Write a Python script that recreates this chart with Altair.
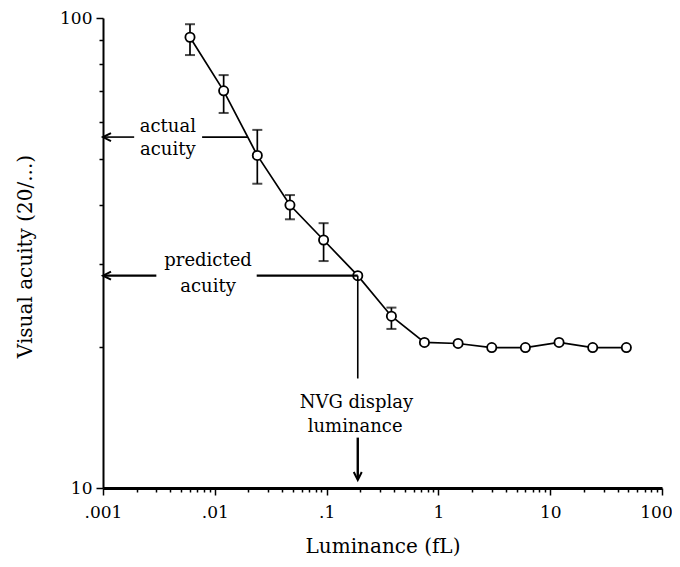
import altair as alt
import pandas as pd

# ---- data ----
luminance = [0.006, 0.012, 0.024, 0.047, 0.094, 0.19, 0.38, 0.75, 1.5, 3.0, 6.0, 12.0, 24.0, 48.0]
acuity = [91.0, 70.0, 51.0, 40.0, 33.7, 28.3, 23.2, 20.4, 20.3, 19.9, 19.9, 20.4, 19.9, 19.9]

err_lum = [0.006, 0.012, 0.024, 0.047, 0.094, 0.38]
err_hi = [97.0, 75.6, 57.8, 42.0, 36.6, 24.2]
err_lo = [83.4, 62.8, 44.4, 37.3, 30.4, 21.8]

# annotation lines (luminance, acuity)
seg_x1 = [0.001, 0.0077, 0.001, 0.0237, 0.19, 0.19]
seg_x2 = [0.0019, 0.0197, 0.0030, 0.19, 0.19, 0.19]
seg_y1 = [55.8, 55.8, 28.3, 28.3, 28.3, 12.8]
seg_y2 = [55.8, 55.8, 28.3, 28.3, 17.1, 10.45]
seg_w = [1.6, 1.6, 2.4, 2.4, 1.6, 2.4]

note_text = ["actual", "acuity", "predicted", "acuity", "NVG display", "luminance"]
note_x = [0.0038, 0.0038, 0.0087, 0.0087, 0.185, 0.18]
note_y = [58.6, 52.4, 30.4, 26.8, 15.2, 13.5]

arrow_left_x = [0.001, 0.001]
arrow_left_y = [55.8, 28.3]
arrow_down_x = [0.19]
arrow_down_y = [10.4]

x_major = [0.001, 0.01, 0.1, 1, 10, 100]
x_major_labels = [".001", ".01", ".1", "1", "10", "100"]
y_major = [10, 100]
y_major_labels = ["10", "100"]

x_ticks = [m * 10 ** e for e in range(-3, 2) for m in range(1, 10)] + [100]
y_ticks = [10, 20, 30, 40, 50, 60, 70, 80, 90, 100]

FONT = "DejaVu Serif"
MAJOR_TEST = "abs(log(datum.value)/LN10 - round(log(datum.value)/LN10)) < 0.001"


def label_expr(vals, labels):
    parts = [f"abs(datum.value - {v}) < {v * 1e-6} ? '{l}'" for v, l in zip(vals, labels)]
    return " : ".join(parts) + " : ''"


main = pd.DataFrame({"lum": luminance, "acu": acuity})
err = pd.DataFrame({"lum": err_lum, "hi": err_hi, "lo": err_lo})
segs = pd.DataFrame({"x1": seg_x1, "x2": seg_x2, "y1": seg_y1, "y2": seg_y2, "w": seg_w})
notes = pd.DataFrame({"t": note_text, "x": note_x, "y": note_y})
arrL = pd.DataFrame({"x": arrow_left_x, "y": arrow_left_y})
arrD = pd.DataFrame({"x": arrow_down_x, "y": arrow_down_y})

xscale = alt.Scale(type="log", domain=[0.001, 100], nice=False)
yscale = alt.Scale(type="log", domain=[10, 100], nice=False)

xaxis = alt.Axis(
    values=x_ticks, labelExpr=label_expr(x_major, x_major_labels), grid=False,
    title="Luminance (fL)", titleFont=FONT, titleFontSize=20, titleFontWeight="normal",
    titleColor="black", titleY=58, titleBaseline="middle",
    labelFont=FONT, labelFontSize=17, labelColor="black", labelPadding=9,
    labelOverlap=False, labelFlush=False,
    labelOffset={"condition": {"test": "datum.value > 99", "value": -6}, "value": 0},
    tickSize={"condition": {"test": MAJOR_TEST, "value": 7}, "value": 4},
    tickWidth=1.5, tickColor="black", domainColor="black", domainWidth=3,
)
yaxis = alt.Axis(
    values=y_ticks, labelExpr=label_expr(y_major, y_major_labels), grid=False,
    title="Visual acuity (20/...)", titleFont=FONT, titleFontSize=20, titleFontWeight="normal",
    titleColor="black", titleX=-78, titleY=238, titleAngle=270, titleAlign="center",
    titleBaseline="middle",
    labelFont=FONT, labelFontSize=17, labelColor="black", labelPadding=4,
    labelOverlap=False, labelFlush=False,
    tickSize={"condition": {"test": MAJOR_TEST, "value": 7}, "value": 4},
    tickWidth=1.5, tickColor="black", domainColor="black", domainWidth=2,
)

X = alt.X("lum:Q", scale=xscale, axis=xaxis)
Y = alt.Y("acu:Q", scale=yscale, axis=yaxis)

line = alt.Chart(main).mark_line(color="black", strokeWidth=1.7).encode(x=X, y=Y)

bars = alt.Chart(err).mark_rule(color="black", strokeWidth=1.7).encode(
    x=alt.X("lum:Q", scale=xscale, axis=xaxis),
    y=alt.Y("lo:Q", scale=yscale, axis=yaxis),
    y2="hi:Q",
)
cap_hi = alt.Chart(err).mark_point(shape="stroke", size=100, strokeWidth=2, color="black").encode(
    x=alt.X("lum:Q", scale=xscale), y=alt.Y("hi:Q", scale=yscale)
)
cap_lo = alt.Chart(err).mark_point(shape="stroke", size=100, strokeWidth=2, color="black").encode(
    x=alt.X("lum:Q", scale=xscale), y=alt.Y("lo:Q", scale=yscale)
)

pts = alt.Chart(main).mark_point(
    shape="circle", size=85, filled=True, fill="white", stroke="black", strokeWidth=1.8, opacity=1
).encode(x=alt.X("lum:Q", scale=xscale), y=alt.Y("acu:Q", scale=yscale))

seg_layer = alt.Chart(segs).mark_rule(color="black").encode(
    x=alt.X("x1:Q", scale=xscale), x2="x2:Q",
    y=alt.Y("y1:Q", scale=yscale), y2="y2:Q",
    strokeWidth=alt.StrokeWidth("w:Q", scale=None, legend=None),
)

text_layer = alt.Chart(notes).mark_text(
    font=FONT, fontSize=18, color="black", align="center", baseline="middle"
).encode(x=alt.X("x:Q", scale=xscale), y=alt.Y("y:Q", scale=yscale), text="t:N")

arrow_left = alt.Chart(arrL).mark_point(
    shape="M 2 -1 L 0 0 L 2 1", size=64, filled=False, color="black", strokeWidth=2, opacity=1
).encode(x=alt.X("x:Q", scale=xscale), y=alt.Y("y:Q", scale=yscale))

arrow_down = alt.Chart(arrD).mark_point(
    shape="M -1 -2 L 0 0 L 1 -2", size=64, filled=False, color="black", strokeWidth=2, opacity=1
).encode(x=alt.X("x:Q", scale=xscale), y=alt.Y("y:Q", scale=yscale))

chart = alt.layer(
    line, bars, cap_hi, cap_lo, pts, seg_layer, text_layer, arrow_left, arrow_down
).properties(
    width=559, height=470,
    autosize=alt.AutoSizeParams(type="none"),
    padding={"left": 95, "top": 10, "right": 10, "bottom": 70},
    background="white",
).configure_view(stroke=None)

chart.save("out.html", embed_options={"renderer": "svg", "actions": False})
